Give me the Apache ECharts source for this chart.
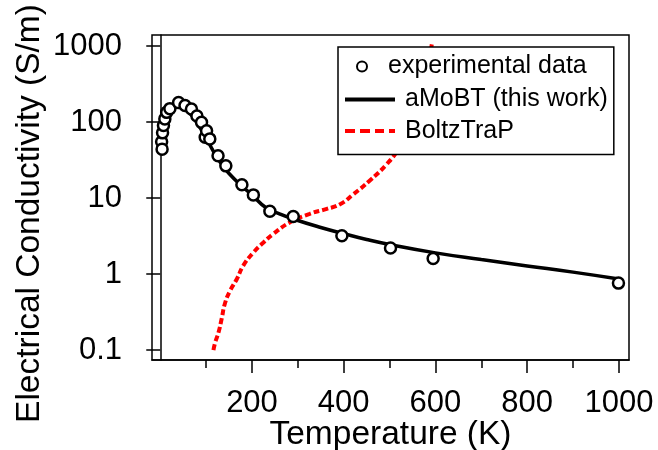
<!DOCTYPE html>
<html>
<head>
<meta charset="utf-8">
<script src="https://cdn.jsdelivr.net/npm/echarts@6/dist/echarts.min.js"></script>
<style>
html,body{margin:0;padding:0;background:#fff;}
#chart{width:658px;height:450px;}
</style>
</head>
<body>
<div id="chart"></div>
<script>
// ---- data ----
var expTemp  = [3, 4, 5, 7, 10, 14, 21, 40, 54, 68, 80, 90, 98, 101, 108, 126, 143, 178, 203, 239, 290, 396, 502, 595, 999];
var expSigma = [55, 44, 72, 90, 110, 134, 150, 180, 165, 148, 120, 99, 63, 77, 60, 36, 26.5, 15, 11, 6.7, 5.7, 3.2, 2.2, 1.6, 0.76];

var fitTemp  = [8, 15, 25, 35, 45, 55, 70, 85, 100, 115, 130, 150, 180, 200, 230, 260, 290, 350, 400, 450, 500, 600, 700, 800, 900, 1000];
var fitSigma = [95, 128, 150, 158, 155, 145, 120, 88, 62, 42, 30, 21, 14, 11, 7.5, 6.2, 5.3, 4.1, 3.4, 2.85, 2.45, 1.9, 1.55, 1.28, 1.06, 0.86];

var btpTemp  = [116, 120, 127, 134, 141, 152, 167, 181, 203, 225, 246, 283, 326, 363, 392, 421, 457, 494, 520, 550, 575, 592];
var btpSigma = [0.1, 0.127, 0.17, 0.26, 0.41, 0.6, 0.86, 1.29, 1.92, 2.6, 3.36, 4.8, 6.2, 7.2, 8.3, 11.2, 17, 28, 45, 100, 316, 1050];

var xMajorTicks = [200, 400, 600, 800, 1000];
var xMinorTicks = [100, 300, 500, 700, 900];
var yTicks = [0.1, 1, 10, 100, 1000];

var seriesNames = ['experimental data', 'aMoBT (this work)', 'BoltzTraP'];

function zip(a, b) { return a.map(function (v, i) { return [v, b[i]]; }); }

var FONT = "'Liberation Sans', Arial, Helvetica, sans-serif";
var SOLID_ICON = 'path://M0,0h50v4h-50z';
var DASH_ICON = 'path://M0,0h10v4h-10zM15,0h10v4h-10zM30,0h9v4h-9zM44,0h6v4h-6z';

var chart = echarts.init(document.getElementById('chart'), null, {renderer: 'canvas'});

var option = {
  animation: false,
  backgroundColor: '#fff',
  grid: {
    left: 152, top: 35, right: 29, bottom: 90,
    containLabel: false, outerBoundsMode: 'none',
    show: true, borderColor: '#000', borderWidth: 1.5, backgroundColor: 'transparent'
  },
  xAxis: [{
    type: 'value', min: -18, max: 1022,
    splitLine: {show: false},
    axisLine: {lineStyle: {color: '#000', width: 1.5}},
    axisTick: {show: true, inside: false, length: 13, lineStyle: {color: '#000', width: 1.5}, customValues: xMajorTicks},
    axisLabel: {customValues: xMajorTicks, color: '#000', fontSize: 31, fontFamily: FONT, margin: 28,
      formatter: function (v) { return String(v); }},
    name: 'Temperature (K)', nameLocation: 'middle', nameGap: 58, nameMoveOverlap: false,
    nameTextStyle: {color: '#000', fontSize: 33.5, fontFamily: FONT}
  }, {
    type: 'value', min: -18, max: 1022, position: 'bottom',
    splitLine: {show: false},
    axisLine: {show: false},
    axisTick: {show: true, inside: false, length: 8, lineStyle: {color: '#000', width: 1.5}, customValues: xMinorTicks},
    axisLabel: {show: false}
  }],
  yAxis: {
    type: 'log', logBase: 10, min: 0.074, max: 1396,
    splitLine: {show: false},
    minorTick: {show: false},
    axisLine: {lineStyle: {color: '#000', width: 1.5}},
    axisTick: {show: true, inside: false, length: 14, lineStyle: {color: '#000', width: 1.5}, customValues: yTicks},
    axisLabel: {customValues: yTicks, color: '#000', fontSize: 31, fontFamily: FONT, margin: 30,
      formatter: function (v) { return String(Number(Number(v).toPrecision(6))); }},
    name: 'Electrical Conductivity (S/m)', nameLocation: 'middle', nameGap: 105, nameMoveOverlap: false,
    nameTextStyle: {color: '#000', fontSize: 33.5, fontFamily: FONT, padding: [0, 32, 0, 0]}
  },
  legend: [{
    // line series legend with the frame
    data: [{name: seriesNames[1], icon: SOLID_ICON}, {name: seriesNames[2], icon: DASH_ICON}],
    orient: 'vertical', left: 338, top: 47,
    padding: [40, 6, 11, 7],
    itemWidth: 50, itemHeight: 4, itemGap: 6.5,
    borderColor: '#000', borderWidth: 1.5, backgroundColor: '#fff',
    selectedMode: false,
    textStyle: {color: '#000', fontSize: 25, lineHeight: 25, fontFamily: FONT, padding: [0, 0, 0, 5]},
    z: 5
  }, {
    data: [seriesNames[0]],
    orient: 'vertical', left: 356, top: 54, padding: 0,
    itemWidth: 42, itemHeight: 10,
    selectedMode: false,
    textStyle: {color: '#000', fontSize: 25, lineHeight: 25, fontFamily: FONT},
    z: 6
  }],
  series: [{
    name: seriesNames[2], type: 'line', xAxisIndex: 0,
    data: zip(btpTemp, btpSigma), smooth: true, symbol: 'none',
    lineStyle: {color: '#ff0000', width: 4, type: [6, 3]},
    itemStyle: {color: '#ff0000'},
    z: 2
  }, {
    name: seriesNames[1], type: 'line', xAxisIndex: 0,
    data: zip(fitTemp, fitSigma), smooth: true, symbol: 'none',
    lineStyle: {color: '#000', width: 3.5},
    itemStyle: {color: '#000'},
    z: 3
  }, {
    name: seriesNames[0], type: 'scatter', xAxisIndex: 0,
    data: zip(expTemp, expSigma), symbol: 'circle', symbolSize: 11,
    itemStyle: {color: '#fff', borderColor: '#000', borderWidth: 2.5, opacity: 1},
    z: 4
  }]
};
chart.setOption(option);
</script>
</body>
</html>
